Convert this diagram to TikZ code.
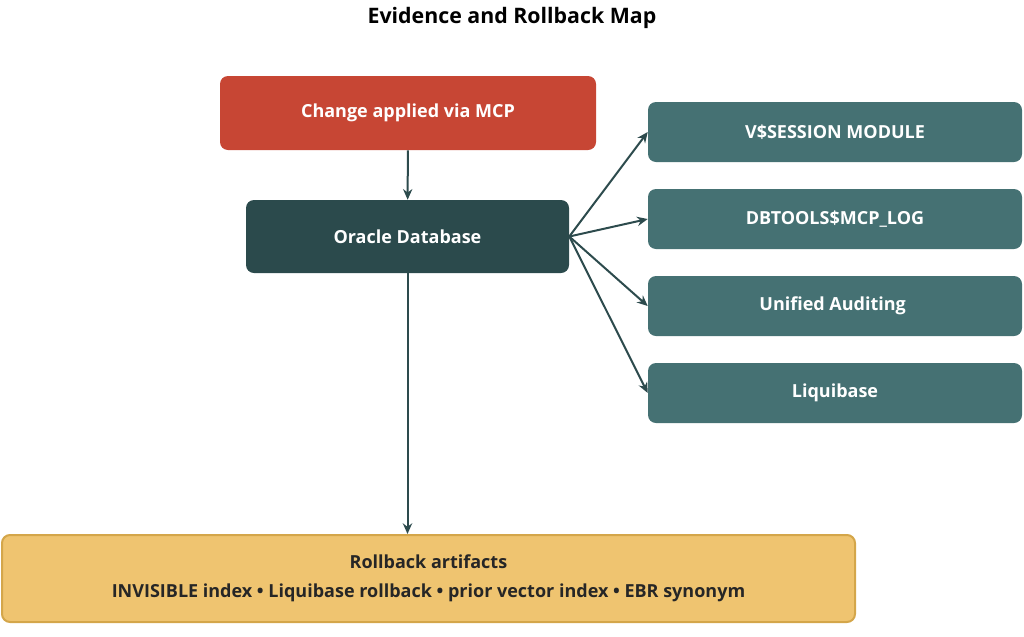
\documentclass[tikz,border=0pt]{standalone}
\usepackage{fontspec}
\setmainfont{Open Sans}
\usetikzlibrary{arrows.meta}
\definecolor{redc}{HTML}{C74634}
\definecolor{darkc}{HTML}{2B4A4C}
\definecolor{tealc}{HTML}{457173}
\definecolor{goldf}{HTML}{EFC470}
\definecolor{goldd}{HTML}{D4A64A}
\definecolor{arr}{HTML}{2D4B4D}
\begin{document}
\begin{tikzpicture}[x=0.75pt,y=-0.75pt,
  box/.style={rounded corners=6pt,font=\bfseries\fontsize{13.5}{16}\selectfont,text=white,align=center,inner sep=0pt},
  con/.style={draw=arr,line width=1.5pt,-{Stealth[length=8pt,width=7pt]}}]
\useasboundingbox (0,0) rectangle (1024,636);
\node[font=\bfseries\fontsize{16}{19}\selectfont] (title) at (512,18) {Evidence and Rollback Map};
\node[box,fill=redc,minimum width=376*0.75pt,minimum height=74*0.75pt] (chg) at (408,113) {Change applied via MCP};
\node[box,fill=darkc,minimum width=323*0.75pt,minimum height=73*0.75pt] (db) at (407.5,236.5) {Oracle Database};
\foreach \n/\y/\t in {a/132/V\$SESSION MODULE/ACTION,b/219/DBTOOLS\$MCP\_LOG,c/306/Unified Auditing / FGA,d/393/Liquibase/Flyway state}
  \node[box,fill=tealc,minimum width=374*0.75pt,minimum height=60*0.75pt] (\n) at (835,\y) {\t};
\node[box,fill=goldf,draw=goldd,line width=1.5pt,text=black!85,minimum width=853*0.75pt,minimum height=87*0.75pt,align=center] (rb) at (428.5,578.5) {Rollback artifacts\\[6pt]INVISIBLE index • Liquibase rollback • prior vector index • EBR synonym};
\draw[con] (chg) -- (db);
\draw[con] (db.south) -- (rb.north-|db.south);
\foreach \n in {a,b,c,d} \draw[con] (db.east) -- (\n.west);
\end{tikzpicture}
\end{document}
